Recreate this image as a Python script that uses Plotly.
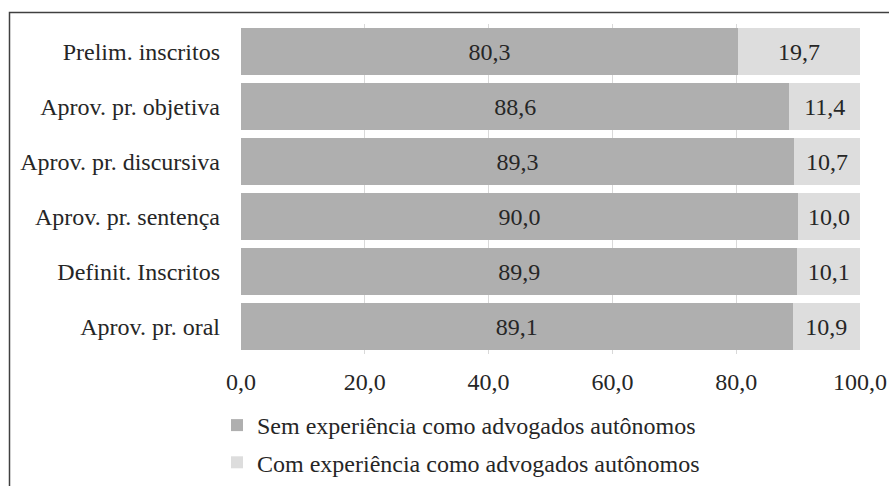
import plotly.graph_objects as go

categories = ["Prelim. inscritos", "Aprov. pr. objetiva", "Aprov. pr. discursiva",
              "Aprov. pr. sentença", "Definit. Inscritos", "Aprov. pr. oral"]
sem_exp = [80.3, 88.6, 89.3, 90.0, 89.9, 89.1]
com_exp = [19.7, 11.4, 10.7, 10.0, 10.1, 10.9]
series_names = ["Sem experiência como advogados autônomos",
                "Com experiência como advogados autônomos"]
x_ticks = [0, 20, 40, 60, 80, 100]

FONT = "Liberation Serif, Times New Roman, serif"
TXT = "#262626"
FS = 24

fig = go.Figure()
fig.add_trace(go.Bar(
    y=categories, x=sem_exp, orientation="h", name=series_names[0],
    marker=dict(color="#afafaf", line=dict(width=0)),
    texttemplate="%{x:.1f}", textposition="inside", insidetextanchor="middle",
    textangle=0, textfont=dict(family=FONT, size=FS, color=TXT),
    legendgroup="a",
))
fig.add_trace(go.Bar(
    y=categories, x=com_exp, orientation="h", name=series_names[1],
    marker=dict(color="#dddddd", line=dict(width=0)),
    texttemplate="%{x:.1f}", textposition="inside", insidetextanchor="middle",
    textangle=0, textfont=dict(family=FONT, size=FS, color=TXT),
    legendgroup="b",
))

fig.update_layout(
    width=889, height=486,
    barmode="stack", bargap=0.14,
    separators=",.",
    paper_bgcolor="white", plot_bgcolor="white",
    font=dict(family=FONT, size=FS, color=TXT),
    margin=dict(l=241, r=29, t=24, b=132, autoexpand=False),
    xaxis=dict(
        range=[0, 100], tickvals=x_ticks, tickformat=".1f",
        showgrid=True, gridcolor="#d9d9d9", gridwidth=1,
        zeroline=False, showline=False, ticks="",
        ticklabelstandoff=11, automargin=False,
        tickfont=dict(family=FONT, size=FS, color=TXT),
    ),
    yaxis=dict(
        categoryorder="array", categoryarray=categories, autorange="reversed",
        showgrid=False, zeroline=False, showline=False, ticks="",
        ticklabelstandoff=20, automargin=False,
        tickfont=dict(family=FONT, size=FS, color=TXT),
    ),
    showlegend=True,
    legend=dict(
        orientation="v", traceorder="grouped", tracegroupgap=3,
        xref="container", yref="container",
        x=217/889, xanchor="left", y=1 - 403/486, yanchor="top",
        font=dict(family=FONT, size=FS, color=TXT),
        bgcolor="rgba(0,0,0,0)", itemwidth=30,
    ),
    shapes=[dict(
        type="rect", xref="paper", yref="paper",
        x0=(9.5 - 241) / 619, x1=(890 - 241) / 619,
        y0=(354 - 487) / 330, y1=(354 - 12.5) / 330,
        line=dict(color="#404040", width=1.5), fillcolor="rgba(0,0,0,0)",
        layer="below",
    )],
)

fig.write_html("out.html", config={"displayModeBar": False},
               post_script="document.body.style.margin='0';")
